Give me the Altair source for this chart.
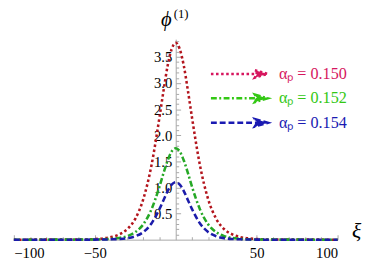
import altair as alt
import pandas as pd

# ---- data ----
xi = [-100, -60, -50, -45, -40, -35, -30, -25, -20, -15, -10, -7.5, -5, -2.5, 0,
      2.5, 5, 7.5, 10, 15, 20, 25, 30, 35, 40, 45, 50, 60, 100]
phi_150 = [0.0, 0.003, 0.012, 0.024, 0.049, 0.10, 0.20, 0.40, 0.78, 1.42, 2.35, 2.86, 3.33, 3.65, 3.77,
           3.65, 3.33, 2.86, 2.35, 1.42, 0.78, 0.40, 0.20, 0.10, 0.049, 0.024, 0.012, 0.003, 0.0]
phi_152 = [0.0, 0.001, 0.003, 0.007, 0.015, 0.032, 0.068, 0.144, 0.295, 0.58, 1.02, 1.28, 1.515, 1.69, 1.75,
           1.69, 1.515, 1.28, 1.02, 0.58, 0.295, 0.144, 0.068, 0.032, 0.015, 0.007, 0.003, 0.001, 0.0]
phi_154 = [0.0, 0.0, 0.001, 0.003, 0.006, 0.013, 0.029, 0.066, 0.146, 0.31, 0.59, 0.76, 0.93, 1.054, 1.10,
           1.054, 0.93, 0.76, 0.59, 0.31, 0.146, 0.066, 0.029, 0.013, 0.006, 0.003, 0.001, 0.0, 0.0]
series = ["0.150", "0.152", "0.154"]

x_major = [-100, -50, 50, 100]
x_all = [-100, -90, -80, -70, -60, -50, -40, -30, -20, -10, 10, 20, 30, 40, 50, 60, 70, 80, 90, 100]
y_major = [0.5, 1.0, 1.5, 2.0, 2.5, 3.0, 3.5]
y_all = [round(0.1 * i, 1) for i in range(1, 39)]

# ---- styles ----
line_colors = ["#b3141c", "#26a826", "#1c1caa"]
legend_colors = ["#d6165e", "#33c814", "#1a1ab2"]
dashes = [[2.6, 2.6], [6, 2.5, 2, 2.5], [6, 3]]
FONT = "Liberation Serif"
GREY = "#a8a8a8"
W, H = 331, 205
XDOM = [-100, 100]
YDOM = [0, 3.84]

rows = []
for s, vals in zip(series, [phi_150, phi_152, phi_154]):
    for x, v in zip(xi, vals):
        rows.append({"xi": x, "phi": v, "alpha": s})
df = pd.DataFrame(rows)

color_expr = ("datum.value === '%s' ? '%s' : datum.value === '%s' ? '%s' : '%s'"
              % (series[0], legend_colors[0], series[1], legend_colors[1], legend_colors[2]))
ARROW = "M-1,0H0.6M0.55,-0.13L1,0L0.55,0.13L0.63,0Z"


def legend_def():
    return alt.Legend(title=None, orient="none", legendX=200, legendY=23, padding=0,
                      symbolType=ARROW, symbolSize=3364, symbolStrokeWidth=2.6, symbolOpacity=1,
                      symbolFillColor={"expr": color_expr},
                      labelExpr="'αₚ = ' + datum.label",
                      labelColor={"expr": color_expr}, labelFont=FONT, labelFontSize=16.5,
                      labelOffset=10, clipHeight=25, rowPadding=0)


xscale = alt.Scale(domain=XDOM, nice=False, zero=False)
yscale = alt.Scale(domain=YDOM, nice=False, zero=False)

# the three curves
lines = alt.Chart(df).mark_line(strokeWidth=2.6, interpolate="monotone").encode(
    x=alt.X("xi:Q", scale=xscale,
            axis=alt.Axis(orient="bottom", values=x_major, ticks=False, labelPadding=6,
                          title="ξ", titleFont=FONT, titleFontStyle="italic", titleFontSize=22,
                          titleFontWeight="normal", titleAngle=0, titleX=W + 19, titleY=-2,
                          titleAlign="center", titleBaseline="alphabetic")),
    y=alt.Y("phi:Q", scale=yscale,
            axis=alt.Axis(orient="left", offset=-W / 2, values=y_major, format=".1f", ticks=False,
                          labelPadding=4, title="ϕ", titleFont=FONT, titleFontStyle="italic",
                          titleFontSize=21, titleFontWeight="normal", titleAngle=0, titleX=-10,
                          titleY=-14, titleAlign="center", titleBaseline="alphabetic")),
    color=alt.Color("alpha:N", scale=alt.Scale(domain=series, range=line_colors), legend=None),
    strokeDash=alt.StrokeDash("alpha:N", scale=alt.Scale(domain=series, range=dashes), legend=None),
)

# invisible copy carrying the inward ticks and the legend (legend colours)
guide = alt.Chart(df).mark_line(opacity=0).encode(
    x=alt.X("xi:Q", scale=xscale,
            axis=alt.Axis(orient="top", offset=-H, values=x_all, labels=False, domain=False,
                          tickColor=GREY, title=None,
                          tickSize={"condition": {"test": "datum.value % 50 === 0", "value": 5},
                                    "value": 3})),
    y=alt.Y("phi:Q", scale=yscale,
            axis=alt.Axis(orient="right", offset=-W / 2, values=y_all, labels=False, domain=False,
                          tickColor=GREY,
                          tickSize={"condition": {"test": "abs(datum.value*2 - round(datum.value*2)) < 0.01",
                                                  "value": 5}, "value": 3},
                          title="(1)", titleFont=FONT, titleFontSize=13, titleFontWeight="normal",
                          titleAngle=0, titleX=5, titleY=-22, titleAlign="center",
                          titleBaseline="alphabetic")),
    color=alt.Color("alpha:N", scale=alt.Scale(domain=series, range=legend_colors),
                    legend=legend_def()),
    strokeDash=alt.StrokeDash("alpha:N", scale=alt.Scale(domain=series, range=dashes),
                              legend=legend_def()),
)

chart = alt.layer(lines, guide).resolve_scale(
    x="independent", y="independent", color="independent", strokeDash="independent"
).resolve_legend(color="independent", strokeDash="independent").properties(
    width=W, height=H,
    padding={"left": 6, "top": 29, "right": 26, "bottom": 22},
    autosize=alt.AutoSizeParams(type="none"),
).configure_view(stroke=None).configure_axis(
    domainColor=GREY, tickColor=GREY, labelFont=FONT, labelFontSize=15, labelColor="black",
    grid=False, titleColor="black",
).configure_legend(labelFont=FONT)

chart.save("out.html", embed_options={"renderer": "svg", "actions": False})
